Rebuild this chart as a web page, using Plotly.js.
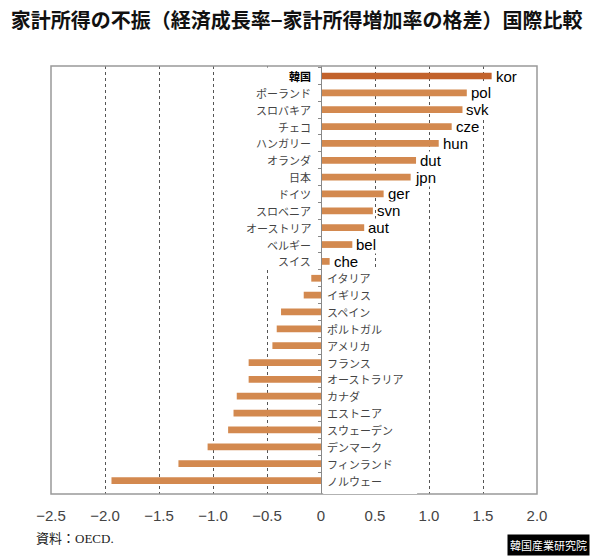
<!DOCTYPE html>
<html>
<head>
<meta charset="utf-8">
<script src="https://cdn.plot.ly/plotly-3.0.1.min.js"></script>
<style>
  body { margin: 0; background: #fff; }
  #chart { width: 600px; height: 560px; }
</style>
</head>
<body>
<div id="chart"></div>
<script>
// countries, top to bottom
const names = ['韓国', 'ポーランド', 'スロバキア', 'チェコ', 'ハンガリー', 'オランダ', '日本', 'ドイツ',
    'スロベニア', 'オーストリア', 'ベルギー', 'スイス', 'イタリア', 'イギリス', 'スペイン', 'ポルトガル',
    'アメリカ', 'フランス', 'オーストラリア', 'カナダ', 'エストニア', 'スウェーデン', 'デンマーク',
    'フィンランド', 'ノルウェー'];
const codes = ['kor', 'pol', 'svk', 'cze', 'hun', 'dut', 'jpn', 'ger', 'svn', 'aut', 'bel', 'che'];
// growth rate minus household income growth rate (%p)
const gaps = [1.58, 1.35, 1.31, 1.21, 1.09, 0.88, 0.83, 0.58, 0.48, 0.40, 0.29, 0.08,
    -0.09, -0.16, -0.37, -0.41, -0.45, -0.67, -0.67, -0.78, -0.81, -0.86, -1.05, -1.32, -1.94];
const tickVals = [-2.5, -2.0, -1.5, -1.0, -0.5, 0, 0.5, 1.0, 1.5, 2.0];
const tickText = ['−2.5', '−2.0', '−1.5', '−1.0', '−0.5', '0', '0.5', '1.0', '1.5', '2.0'];

const korColor = '#c2622b';
const barColor = '#d3894f';
const jpFont = 'Noto Sans CJK JP, sans-serif';

const barTrace = {
    type: 'bar',
    orientation: 'h',
    x: gaps,
    y: names,
    marker: { color: names.map(n => n === '韓国' ? korColor : barColor) },
    hoverinfo: 'x+y',
};

// country names next to the zero line
const nameNotes = names.map((n, i) => ({
    x: 0,
    y: n,
    xref: 'x',
    yref: 'y',
    text: n === '韓国' ? '<b>' + n + '</b>' : n,
    showarrow: false,
    xanchor: gaps[i] >= 0 ? 'right' : 'left',
    xshift: gaps[i] >= 0 ? -8 : 4,
    font: { family: jpFont, size: 11, color: n === '韓国' ? '#000' : '#444' },
}));

// codes at the end of the positive bars
const codeNotes = codes.map((c, i) => ({
    x: gaps[i],
    y: names[i],
    xref: 'x',
    yref: 'y',
    text: c,
    showarrow: false,
    xanchor: 'left',
    xshift: 3,
    bgcolor: '#fff',
    borderpad: 0,
    font: { family: 'Liberation Sans, Arial, sans-serif', size: 15, color: '#000' },
}));

const footNotes = [
    {
        xref: 'paper', yref: 'paper', x: -0.035, y: -0.105,
        xanchor: 'left', yanchor: 'middle', showarrow: false,
        text: '資料：OECD.',
        font: { family: 'Liberation Serif, Noto Sans CJK JP, serif', size: 13, color: '#222' },
    },
    {
        xref: 'paper', yref: 'paper', x: 1.109, y: -0.119,
        xanchor: 'right', yanchor: 'middle', showarrow: false,
        text: '韓国産業研究院',
        bgcolor: '#000', borderpad: 2,
        font: { family: jpFont, size: 11, color: '#fff' },
    },
];

const layout = {
    width: 600,
    height: 560,
    margin: { l: 51, r: 63, t: 66, b: 66 },
    paper_bgcolor: '#fff',
    plot_bgcolor: '#fff',
    showlegend: false,
    bargap: 0.6,
    title: {
        text: '家計所得の不振（経済成長率−家計所得増加率の格差）国際比較',
        font: { family: jpFont, size: 20, color: '#111', weight: 'bold' },
        xref: 'container', yref: 'container',
        x: 0.018, y: 0.962, xanchor: 'left', yanchor: 'middle',
    },
    xaxis: {
        range: [-2.5, 2.0],
        tickvals: tickVals,
        ticktext: tickText,
        showgrid: true,
        gridcolor: '#555',
        griddash: 'dot',
        gridwidth: 1,
        zeroline: false,
        showline: false,
        ticks: '',
        ticklabelstandoff: 11,
        tickfont: { family: 'Liberation Sans, Arial, sans-serif', size: 15, color: '#444' },
        fixedrange: true,
    },
    yaxis: {
        type: 'category',
        autorange: 'reversed',
        anchor: 'free',
        position: 2.5 / 4.5,
        showline: true,
        linecolor: '#888',
        linewidth: 1,
        ticks: 'outside',
        tickson: 'boundaries',
        ticklen: 3,
        tickcolor: '#888',
        showticklabels: false,
        showgrid: false,
        zeroline: false,
        fixedrange: true,
    },
    shapes: [
        // white panel behind the names of the positive bars
        { type: 'rect', xref: 'x', yref: 'y', x0: -0.73, x1: -0.02, y0: -0.5, y1: 11.5,
          fillcolor: '#fff', line: { width: 0 }, layer: 'between' },
        // plot frame
        { type: 'rect', xref: 'paper', yref: 'paper', x0: 0, x1: 1, y0: 0, y1: 1,
          line: { color: '#999', width: 1.5 }, layer: 'above' },
        // white panel behind the names of the negative bars
        { type: 'rect', xref: 'x', yref: 'y', x0: 0.02, x1: 0.89, y0: 11.5, y1: 24.8,
          fillcolor: '#fff', line: { width: 0 }, layer: 'above' },
    ],
    annotations: nameNotes.concat(codeNotes, footNotes),
};

Plotly.newPlot('chart', [barTrace], layout, { displayModeBar: false });
</script>
</body>
</html>
